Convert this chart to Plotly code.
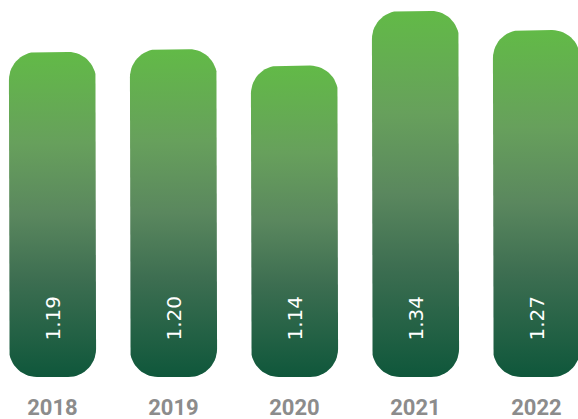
import numpy as np
import plotly.graph_objects as go

# Data
years = ["2018", "2019", "2020", "2021", "2022"]
values = [1.19, 1.20, 1.14, 1.34, 1.27]

# Layout geometry
W, H = 578, 419
M_BOTTOM = 42
X_RANGE = [-0.4339, 4.343]
Y_RANGE = [0, 1.380]
BAR_WIDTH = 0.72          # in category units
CORNER_PX = 28            # corner radius in pixels
LABEL_Y = 0.216           # vertical centre of the value labels, data units

plot_w = W
plot_h = H - M_BOTTOM
px_per_x = plot_w / (X_RANGE[1] - X_RANGE[0])
px_per_y = plot_h / (Y_RANGE[1] - Y_RANGE[0])
rx = CORNER_PX / px_per_x
ry = CORNER_PX / px_per_y

# Bottom (0) to top (1) of each bar
GRADIENT = [
    [0.0, "#0f573b"],
    [0.3, "#3d6e51"],
    [0.5, "#5a875e"],
    [0.72, "#67a05c"],
    [1.0, "#62ba47"],
]


def rounded_bar(xc, top, half, rx, ry, n=16):
    """Outline of a bar with all four corners rounded, in data units."""
    left, right, bottom = xc - half, xc + half, 0.0
    xs, ys = [], []

    def arc(cx, cy, a0, a1):
        t = np.linspace(a0, a1, n)
        xs.extend(cx + rx * np.cos(t))
        ys.extend(cy + ry * np.sin(t))

    arc(right - rx, bottom + ry, -np.pi / 2, 0)          # bottom-right
    arc(right - rx, top - ry, 0, np.pi / 2)              # top-right
    arc(left + rx, top - ry, np.pi / 2, np.pi)           # top-left
    arc(left + rx, bottom + ry, np.pi, 1.5 * np.pi)      # bottom-left
    xs.append(xs[0])
    ys.append(ys[0])
    return xs, ys


fig = go.Figure()
for i, (yr, v) in enumerate(zip(years, values)):
    bx, by = rounded_bar(i, v, BAR_WIDTH / 2, rx, ry)
    fig.add_trace(go.Scatter(
        x=bx, y=by, mode="lines", fill="toself",
        line=dict(width=0),
        fillgradient=dict(type="vertical", colorscale=GRADIENT),
        hoverinfo="skip", showlegend=False,
    ))
    fig.add_annotation(
        x=i, y=LABEL_Y, text=f"{v:.2f}", textangle=-90, showarrow=False,
        xanchor="center", yanchor="middle",
        font=dict(family="DejaVu Sans, sans-serif", size=20, color="white"),
    )

fig.update_layout(
    width=W, height=H,
    margin=dict(l=0, r=0, t=0, b=M_BOTTOM, autoexpand=False),
    paper_bgcolor="white", plot_bgcolor="white",
    xaxis=dict(
        range=X_RANGE, tickmode="array", tickvals=list(range(len(years))),
        ticktext=years, showgrid=False, zeroline=False, showline=False,
        ticks="outside", ticklen=11, tickcolor="rgba(0,0,0,0)",
        tickfont=dict(family="Roboto, Arial, sans-serif", size=22, color="#8c8c8c",
                      weight="bold"),
        automargin=False, fixedrange=True,
    ),
    yaxis=dict(range=Y_RANGE, showgrid=False, zeroline=False, showline=False,
               showticklabels=False, automargin=False, fixedrange=True),
)

fig.write_html("out.html")
